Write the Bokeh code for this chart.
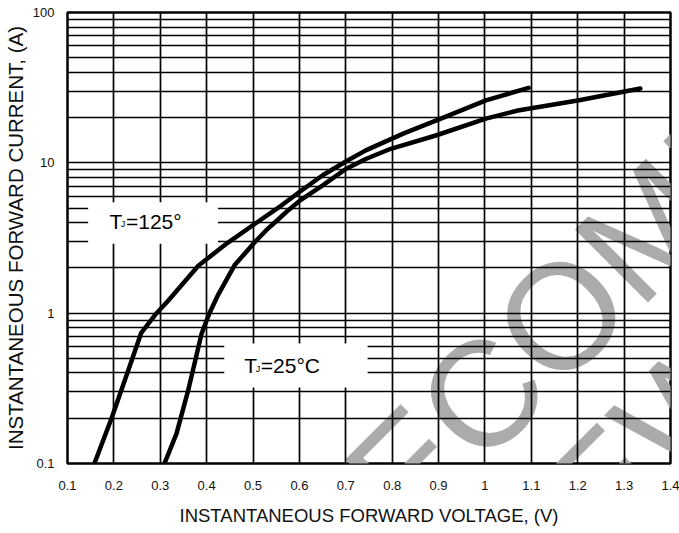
import math
from bokeh.plotting import figure
from bokeh.models import FixedTicker, CustomJSTickFormatter, Label, Range1d
from bokeh.embed import file_html
from bokeh.resources import INLINE

# ---- data ----
v_125 = [0.158, 0.195, 0.238, 0.259, 0.292, 0.317, 0.382, 0.446, 0.505, 0.561,
         0.600, 0.651, 0.700, 0.743, 0.825, 0.905, 1.002, 1.094]
i_125 = [0.1, 0.20, 0.48, 0.74, 1.0, 1.21, 2.07, 2.95, 3.95, 5.2,
         6.4, 8.3, 10.2, 12.1, 15.7, 19.7, 26.0, 31.5]

v_25 = [0.309, 0.335, 0.360, 0.389, 0.406, 0.425, 0.460, 0.503, 0.528, 0.554,
        0.578, 0.604, 0.651, 0.700, 0.743, 0.797, 0.894, 1.002, 1.071, 1.200, 1.335]
i_25 = [0.1, 0.158, 0.305, 0.73, 1.0, 1.33, 2.08, 2.95, 3.55, 4.2,
        4.9, 5.7, 7.1, 9.1, 10.6, 12.4, 15.2, 19.7, 22.3, 26.0, 31.2]

x_ticks = [0.1, 0.2, 0.3, 0.4, 0.5, 0.6, 0.7, 0.8, 0.9, 1.0, 1.1, 1.2, 1.3, 1.4]
x_tick_labels = ["0.1", "0.2", "0.3", "0.4", "0.5", "0.6", "0.7", "0.8", "0.9",
                 "1", "1.1", "1.2", "1.3", "1.4"]
y_ticks = [0.1, 1, 10, 100]
y_tick_labels = ["0.1", "1", "10", "100"]
y_minor = [m * d for d in (0.1, 1, 10) for m in range(2, 10)]

x_title = "INSTANTANEOUS FORWARD VOLTAGE, (V)"
y_title = "INSTANTANEOUS FORWARD CURRENT, (A)"
watermark_1 = "NOT RECOMMENDED"
watermark_2 = "FOR NEW DESIGN"

FONT = "Liberation Sans"

p = figure(width=679, height=533, output_backend="svg", toolbar_location=None,
           x_range=Range1d(0.1, 1.4), y_range=Range1d(0.1, 100),
           y_axis_type="log", min_border_left=66, min_border_right=9,
           min_border_top=12, min_border_bottom=70,
           x_axis_label=x_title, y_axis_label=y_title)
p.background_fill_color = "white"
p.border_fill_color = "white"
p.outline_line_color = "black"
p.outline_line_width = 2.5
p.outline_line_alpha = 1.0

# watermark (behind everything), canvas pixel units
wm_style = dict(text_font=FONT, text_font_size="150px", text_color="#ababab",
                text_align="center", text_baseline="middle", angle=math.pi / 4,
                level="image", x_units="canvas", y_units="canvas")
p.add_layout(Label(x=598, y=278, text=watermark_1, **wm_style))
p.add_layout(Label(x=707, y=384, text=watermark_2, **wm_style))

# ticks / grids
xt = FixedTicker(ticks=x_ticks)
yt = FixedTicker(ticks=y_ticks, minor_ticks=y_minor)
fmt_code = ("const k = tv.findIndex(t => Math.abs(t - tick) < 1e-9 * Math.max(1, Math.abs(t)));"
            " return k >= 0 ? labs[k] : '';")
p.xaxis.ticker = xt
p.xgrid.ticker = xt
p.yaxis.ticker = yt
p.ygrid.ticker = yt
p.xaxis.formatter = CustomJSTickFormatter(args=dict(tv=x_ticks, labs=x_tick_labels), code=fmt_code)
p.yaxis.formatter = CustomJSTickFormatter(args=dict(tv=y_ticks, labs=y_tick_labels), code=fmt_code)

for ax in (p.xaxis, p.yaxis):
    ax.major_tick_out = 0
    ax.major_tick_in = 0
    ax.minor_tick_out = 0
    ax.minor_tick_in = 0
    ax.axis_line_color = None
    ax.major_label_text_font = FONT
    ax.major_label_text_font_size = "13px"
    ax.major_label_text_color = "#111111"
    ax.axis_label_text_font = FONT
    ax.axis_label_text_font_style = "normal"
    ax.axis_label_text_color = "#111111"
p.xaxis.major_label_standoff = 17
p.yaxis.major_label_standoff = 13
p.xaxis.axis_label_text_font_size = "18.5px"
p.yaxis.axis_label_text_font_size = "20.5px"
p.xaxis.axis_label_standoff = 12
p.yaxis.axis_label_standoff = 3

for g in (p.xgrid, p.ygrid):
    g.grid_line_color = "black"
    g.grid_line_width = 1.7
    g.grid_line_alpha = 1.0
p.ygrid.minor_grid_line_color = "black"
p.ygrid.minor_grid_line_width = 1.7
p.ygrid.minor_grid_line_alpha = 1.0

# white label boxes
p.quad(left=[0.1445, 0.438], right=[0.4244, 0.747], bottom=[2.90, 0.320], top=[5.47, 0.628],
       fill_color="white", line_color=None)

# curves
p.line(v_125, i_125, line_color="black", line_width=4.5, line_join="round", line_cap="round")
p.line(v_25, i_25, line_color="black", line_width=4.5, line_join="round", line_cap="round")

# curve labels
lab = dict(text_font=FONT, text_color="black", text_align="left", text_baseline="alphabetic")
p.add_layout(Label(x=0.1904, y=4.07, text="T", text_font_size="21px", **lab))
p.add_layout(Label(x=0.2150, y=3.92, text="J", text_font_size="9px", **lab))
p.add_layout(Label(x=0.2260, y=4.07, text="=125°", text_font_size="21px", **lab))

p.add_layout(Label(x=0.481, y=0.448, text="T", text_font_size="21px", **lab))
p.add_layout(Label(x=0.5057, y=0.428, text="J", text_font_size="9px", **lab))
p.add_layout(Label(x=0.5167, y=0.448, text="=25°C", text_font_size="21px", **lab))

open("out.html", "w").write(file_html(p, INLINE))
